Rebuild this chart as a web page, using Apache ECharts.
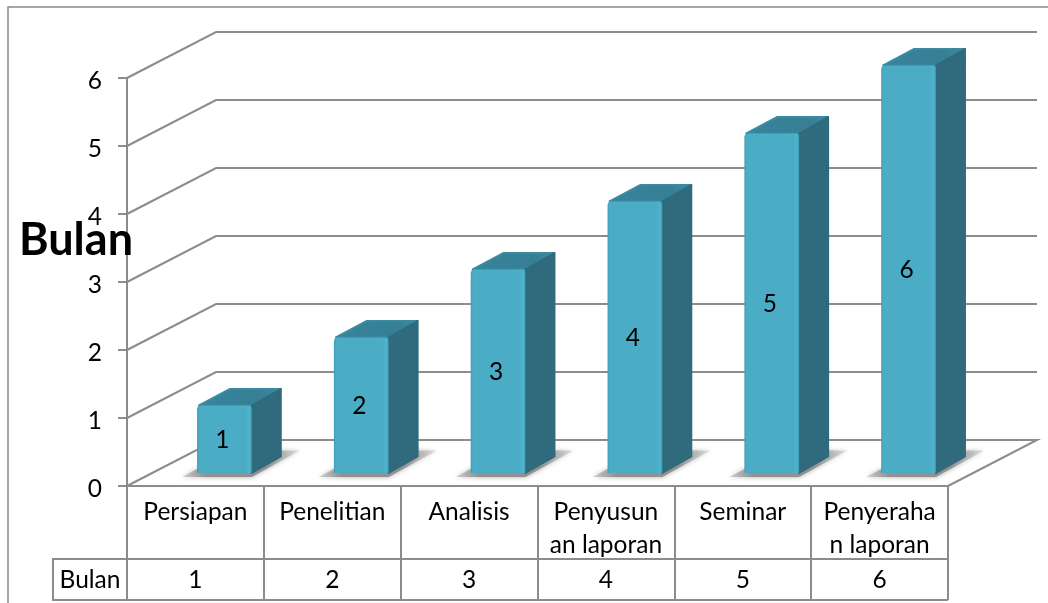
<!DOCTYPE html>
<html>
<head>
<meta charset="utf-8">
<style>html,body{margin:0;padding:0;background:#fff}#chart{width:1048px;height:603px}</style>
<script src="https://cdn.jsdelivr.net/npm/echarts@6/dist/echarts.min.js"></script>
</head>
<body>
<div id="chart"></div>
<script>
// Schedule of the research stages, in months
var categories = ['Persiapan', 'Penelitian', 'Analisis', 'Penyusun\nan laporan', 'Seminar', 'Penyeraha\nn laporan'];
var months = [1, 2, 3, 4, 5, 6];
var valueTicks = [0, 1, 2, 3, 4, 5, 6];
var seriesName = 'Bulan';

// Oblique projection of the chart box
var WALL_DX = 89, WALL_DY = 46;       // offset of the back wall
var BAR_DX = 29, BAR_DY = 13;         // offset of the bar's front face from the front plane
var SIDE_DX = 30, SIDE_DY = 16.5;     // bar depth
var BAR_RATIO = 0.4;                  // bar width as a share of the band
var TABLE_ROW1 = 73, TABLE_ROW2 = 41, TABLE_HEAD = 74;

var LINE = '#8c8c8c';
var FONT = 'Lato, Carlito, sans-serif';
var TEXT_SIZE = 24.5;

function wallItem(params, api) {
  var cs = params.coordSys;
  var y = api.coord([0, api.value(0)])[1];
  var x0 = cs.x, x1 = cs.x + cs.width;
  var pts = [[x0, y], [x0 + WALL_DX, y - WALL_DY], [x1 + WALL_DX, y - WALL_DY]];
  if (api.value(0) === 0) pts.push([x1, y]);
  return {
    type: 'polyline',
    shape: { points: pts },
    style: { stroke: LINE, lineWidth: 2, fill: null }
  };
}

function barItem(params, api) {
  var i = api.value(0), v = api.value(1);
  var base = api.coord([i, 0]);
  var top = api.coord([i, v]);
  var w = api.size([1, 0])[0] * BAR_RATIO;
  var xl = base[0] + BAR_DX - w / 2, xr = xl + w;
  var yb = base[1] - BAR_DY, yt = top[1] - BAR_DY + 0.5;
  var sx = SIDE_DX, sy = SIDE_DY;
  return {
    type: 'group',
    children: [
      { // soft shadow cast on the floor
        type: 'polygon',
        shape: { points: [[xl - 15, yb + 4], [xr, yb + 4], [xr + sx + 18, yb - sy - 6], [xr + sx - 4, yb - sy - 6], [xr, yb - 4], [xl, yb - 4]] },
        style: {
          fill: new echarts.graphic.LinearGradient(0, 0, 1, 0, [
            { offset: 0, color: 'rgba(175,175,175,0.5)' }, { offset: 0.2, color: 'rgba(145,145,145,1)' },
            { offset: 0.72, color: 'rgba(145,145,145,1)' }, { offset: 1, color: 'rgba(190,190,190,0.4)' }
          ]),
          shadowBlur: 5, shadowColor: 'rgba(150,150,150,0.8)'
        }
      },
      { // top face
        type: 'polygon',
        shape: { points: [[xl + 2, yt], [xr, yt], [xr + sx - 1, yt - sy], [xl + sx + 3, yt - sy]] },
        style: {
          fill: new echarts.graphic.LinearGradient(0, 1, 1, 0, [
            { offset: 0, color: '#37849b' }, { offset: 0.75, color: '#367f95' }, { offset: 1, color: '#3c8ea6' }
          ]),
          stroke: '#3a8aa1', lineWidth: 2, lineJoin: 'round'
        }
      },
      { // side face
        type: 'polygon',
        shape: { points: [[xr, yt], [xr + sx - 1, yt - sy], [xr + sx - 1, yb - sy], [xr, yb]] },
        style: { fill: '#2f6b7c', stroke: '#2f6b7c', lineWidth: 2, lineJoin: 'round' }
      },
      { // front face, with a slight bevel along its edges
        type: 'rect',
        shape: { x: xl, y: yt, width: w, height: yb - yt, r: [4, 3, 1, 1] },
        style: {
          fill: new echarts.graphic.LinearGradient(0, 0, 1, 0, [
            { offset: 0, color: '#419cb4' }, { offset: 0.04, color: '#4bacc6' },
            { offset: 0.9, color: '#4bacc6' }, { offset: 0.96, color: '#50b4ce' }, { offset: 1, color: '#3f98b0' }
          ])
        }
      },
      { // value label on the front face
        type: 'text',
        style: {
          x: (xl + xr) / 2 - 2, y: (yt + yb) / 2 + 1,
          text: String(v), align: 'center', verticalAlign: 'middle',
          font: TEXT_SIZE + 'px ' + FONT, fill: '#000'
        }
      }
    ]
  };
}

function tableRowItem(params, api) {
  var cs = params.coordSys;
  var base = api.coord([api.value(0), 0]);
  var rowTop = base[1] + TABLE_ROW1, rowBottom = rowTop + TABLE_ROW2;
  var children = [{
    type: 'text',
    style: {
      x: base[0], y: (rowTop + rowBottom) / 2 + 1,
      text: String(api.value(1)), align: 'center', verticalAlign: 'middle',
      font: TEXT_SIZE + 'px ' + FONT, fill: '#000'
    }
  }];
  if (params.dataIndex === 0) {
    var lineStyle = { stroke: LINE, lineWidth: 2, fill: null };
    var x0 = cs.x - TABLE_HEAD, x1 = cs.x + cs.width;
    children.push(
      { type: 'polyline', shape: { points: [[cs.x, rowTop], [x0, rowTop], [x0, rowBottom], [x1, rowBottom]] }, style: lineStyle },
      { type: 'line', shape: { x1: cs.x, y1: rowTop, x2: x1, y2: rowTop }, style: lineStyle },
      {
        type: 'text',
        style: {
          x: cs.x - TABLE_HEAD / 2, y: (rowTop + rowBottom) / 2 + 1,
          text: seriesName, align: 'center', verticalAlign: 'middle',
          font: TEXT_SIZE + 'px ' + FONT, fill: '#000'
        }
      }
    );
  }
  return { type: 'group', children: children };
}

var chart = echarts.init(document.getElementById('chart'), null, { renderer: 'canvas' });
chart.setOption({
  animation: false,
  backgroundColor: '#fff',
  title: {
    text: seriesName, left: 14, top: 213, z: 10,
    textStyle: { fontFamily: FONT, fontWeight: 'bold', fontSize: 45, color: '#000' }
  },
  grid: { left: 127, right: 100, top: 78, bottom: 117, containLabel: false },
  xAxis: {
    type: 'category',
    data: categories,
    boundaryGap: true,
    axisLine: { show: true, lineStyle: { color: LINE, width: 2 } },
    axisTick: { show: true, length: TABLE_ROW1 + TABLE_ROW2, lineStyle: { color: LINE, width: 2 } },
    axisLabel: { interval: 0, margin: 10, fontFamily: FONT, fontSize: TEXT_SIZE, lineHeight: 33, color: '#000', align: 'center' },
    splitLine: { show: false }
  },
  yAxis: {
    type: 'value',
    min: valueTicks[0],
    max: valueTicks[valueTicks.length - 1],
    interval: 1,
    axisLine: { show: true, lineStyle: { color: LINE, width: 2 } },
    axisTick: { show: true, length: 9, lineStyle: { color: LINE, width: 2 } },
    axisLabel: {
      margin: 25, fontFamily: FONT, fontSize: TEXT_SIZE, color: '#000',
      verticalAlign: 'top', verticalAlignMinLabel: 'top', verticalAlignMaxLabel: 'top', lineHeight: 6
    },
    splitLine: { show: false }
  },
  graphic: [{
    // outer chart frame, open towards the right and bottom
    type: 'polyline', silent: true, z: -1,
    shape: { points: [[8, 603], [8, 7], [1048, 7]] },
    style: { stroke: '#8a8a8a', lineWidth: 1.5, fill: null }
  }],
  series: [
    {
      type: 'custom', name: 'walls', coordinateSystem: 'cartesian2d', z: 1, silent: true,
      encode: { y: 0 }, data: valueTicks.map(function (t) { return [t]; }),
      renderItem: wallItem
    },
    {
      type: 'custom', name: seriesName, coordinateSystem: 'cartesian2d', z: 3, silent: true,
      encode: { x: 0, y: 1 }, data: months.map(function (m, i) { return [i, m]; }),
      renderItem: barItem
    },
    {
      type: 'custom', name: 'table', coordinateSystem: 'cartesian2d', z: 2, silent: true,
      encode: { x: 0, y: 1 }, data: months.map(function (m, i) { return [i, m]; }),
      renderItem: tableRowItem
    }
  ]
});
</script>
</body>
</html>
